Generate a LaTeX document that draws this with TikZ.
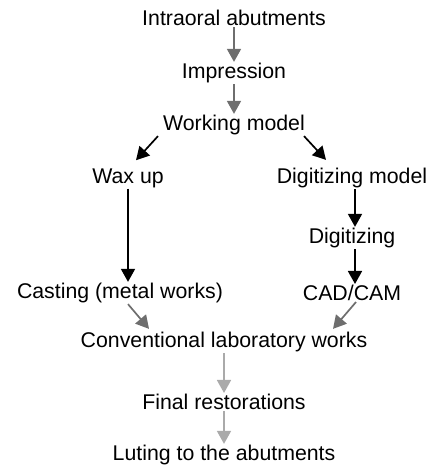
\documentclass[tikz,border=0pt]{standalone}
\usepackage{fontspec}
\setmainfont{Liberation Sans}
\usepackage{tikz}
\usetikzlibrary{arrows.meta}
\definecolor{darkarrow}{HTML}{6E6E6E}
\definecolor{lightarrow}{HTML}{AAAAAA}

\begin{document}
\begin{tikzpicture}[x=1pt, y=-1pt, every node/.style={inner sep=1pt, font=\fontsize{21.3}{24}\selectfont},
		flow/.style={line width=1.7pt, -{Triangle[length=13pt, width=14pt]}}]
			\useasboundingbox (0,0) rectangle (429,468);
			% Steps
			\node (abut) at (234,18) {Intraoral abutments};
			\node (impr) at (234,73) {Impression};
			\node (work) at (234,125) {Working model};
			\node (wax) at (128,178) {Wax up};
			\node (digm) at (352,178) {Digitizing model};
			\node (digi) at (352,238) {Digitizing};
			\node (cast) at (120,293) {Casting (metal works)};
			\node (cad) at (352,293) {CAD/CAM};
			\node (conv) at (224,342) {Conventional laboratory works};
			\node (final) at (224,402) {Final restorations};
			\node (lute) at (224,455) {Luting to the abutments};
			% Arrows
			\draw[flow, darkarrow] (abut) -- (impr);
			\draw[flow, darkarrow] (impr) -- (work);
			\draw[flow] ([xshift=-4pt]work.south west) -- ([shift={(8,-7)}]wax.north);
			\draw[flow] ([xshift=-2pt]work.south east) -- ([shift={(-26,-7)}]digm.north);
			\draw[flow] (wax.south) -- (wax.south |- cast.north);
			\draw[flow] ([xshift=3pt]digm.south) -- ([xshift=3pt]digi.north);
			\draw[flow] ([xshift=3pt]digi.south) -- ([xshift=3pt]cad.north);
			\draw[flow, darkarrow] ([xshift=8pt]cast.south) -- ([shift={(-75,-2)}]conv.north);
			\draw[flow, darkarrow] ([xshift=4pt]cad.south) -- ([shift={(109,-2)}]conv.north);
			\draw[flow, lightarrow] (conv) -- (final);
			\draw[flow, lightarrow] (final) -- (lute);
		\end{tikzpicture}
\end{document}
